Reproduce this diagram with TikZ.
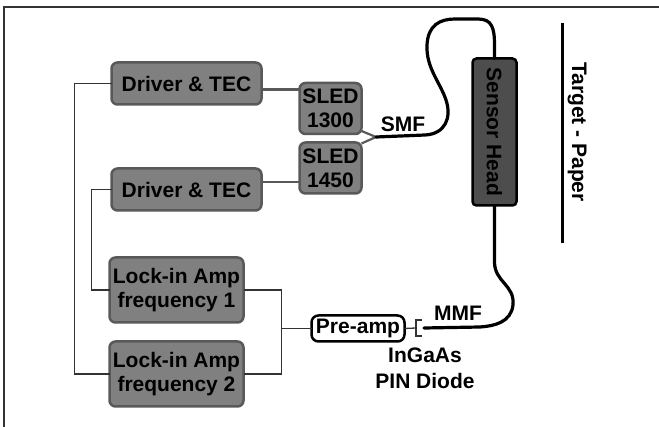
\documentclass[tikz,border=0pt]{standalone}
\usepackage{fontspec}
\setmainfont{Liberation Sans}
\usetikzlibrary{positioning}
\definecolor{boxgray}{HTML}{808080}
\definecolor{boxedge}{HTML}{595959}
\definecolor{headgray}{HTML}{4D4D4D}
\definecolor{wiregray}{HTML}{333333}

\begin{document}
\begin{tikzpicture}[x=1pt,y=-1pt,font=\fontsize{21}{24}\selectfont\bfseries,
    unit/.style={rounded corners=6pt,fill=boxgray,draw=boxedge,line width=2.5pt,align=center,inner sep=0pt,outer sep=0pt},
    wire/.style={draw=wiregray,line width=1.3pt},
    link/.style={draw=boxedge,line width=2.8pt},
    fiber/.style={draw=black,line width=3.2pt,line cap=round}]
        \useasboundingbox (0,0) rectangle (659,427);
        \draw[wire] (4,427) -- (4,7) -- (659,7);
        % sources
        \node[unit,minimum width=150pt,minimum height=42pt] (drv1) at (186.5,83.5) {Driver \& TEC};
        \node[unit,minimum width=150pt,minimum height=42pt,below=64pt of drv1] (drv2) {Driver \& TEC};
        \node[unit,minimum width=62pt,minimum height=51pt] (sled1) at (330.5,108.5) {SLED\\1300};
        \node[unit,minimum width=62pt,minimum height=51pt,below=8.5pt of sled1] (sled2) {SLED\\1450};
        % detection
        \node[unit,minimum width=134pt,minimum height=65pt] (lia1) at (176.5,290) {Lock-in Amp\\frequency 1};
        \node[unit,minimum width=134pt,minimum height=65pt,below=19pt of lia1] (lia2) {Lock-in Amp\\frequency 2};
        \node[rounded corners=7pt,fill=white,draw=black,line width=2.5pt,inner sep=0pt,outer sep=0pt,minimum width=93pt,minimum height=26pt] (pre) at (358,328.5) {Pre-amp};
        \node[rounded corners=4pt,fill=headgray,draw=black,line width=2.5pt,inner sep=0pt,outer sep=0pt,minimum width=44pt,minimum height=147pt] (head) at (494.5,132) {\rotatebox{-90}{Sensor Head}};
        \node (paper) at (577,132) {\rotatebox{-90}{Target - Paper}};
        \draw[line width=3pt] (562,23) -- (562,243);
        % fibres
        \coordinate (junc) at (376,137);
        \coordinate (pd) at (416,328);
        \node (smf) at (403,124) {SMF};
        \node (mmf) at (458,313) {MMF};
        \node[align=center,font=\fontsize{21}{26}\selectfont\bfseries] (pin) at (425,368) {InGaAs\\PIN Diode};
        % connections
        \draw[link] ([yshift=-6pt]drv1.east) -- ([yshift=-6pt]drv1.east -| sled1.west);
        \draw[link] ([yshift=7.5pt]drv2.east) -- ([yshift=7.5pt]drv2.east -| sled2.west);
        \draw[link,line width=2.2pt] ([yshift=3pt]sled1.south east) -- (junc) -- ([yshift=-1pt]sled2.north east);
        \draw[fiber] (junc) -- (425,135) .. controls (445,134) and (452,118) .. (446,100)
            .. controls (440,82) and (426,68) .. (427,45) .. controls (428,25) and (440,19) .. (455,19)
            -- (478,19) .. controls (492,19) and (494.5,28) .. (494.5,45) -- (head.north);
        \draw[fiber] (head.south) -- (494.5,262) .. controls (494.5,282) and (515,285) .. (513,305)
            .. controls (511,322) and (495,326) .. (480,327) -- ([xshift=8pt]pd);
        \draw[wire] (pd) ++(6,-8) -- ++(-6,0) -- ++(0,16) -- ++(6,0);
        \draw[wire] (pre.east) -- (pd);
        \draw[wire] (drv1.west) -- ++(-37,0) |- (lia2.west);
        \draw[wire] (drv2.west) -- ++(-20,0) |- (lia1.west);
        \draw[wire] (lia1.east) -- ++(38,0) coordinate (bus) |- (lia2.east);
        \draw[wire] (pre.west) -- (pre.west -| bus);
      \end{tikzpicture}
\end{document}
